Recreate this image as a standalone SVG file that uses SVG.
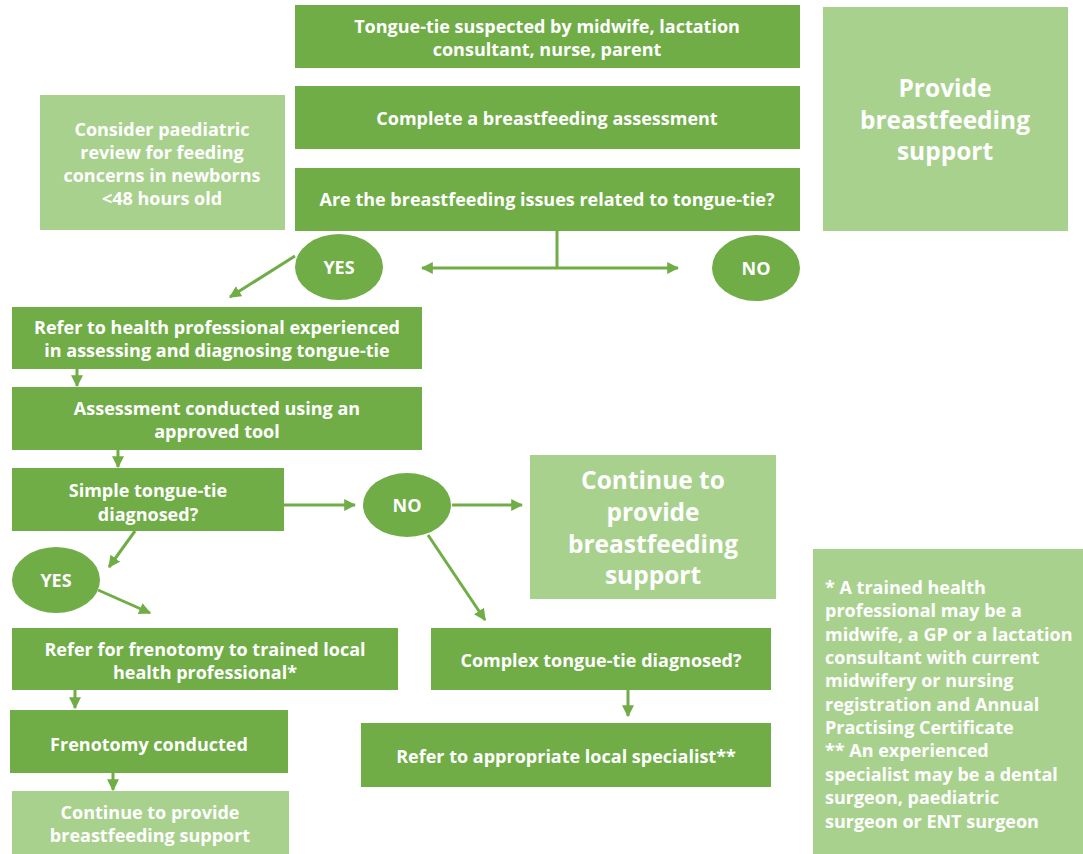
<svg xmlns="http://www.w3.org/2000/svg" width="1083" height="854" viewBox="0 0 1083 854">
<style>
.d{fill:#70AD47}
.l{fill:#A9D18E}
text{font-family:"Open Sans","Noto Sans",sans-serif;font-weight:bold;fill:#fff;text-anchor:middle;font-size:18px}
.big{font-size:24.5px}
.nt{text-anchor:start;font-size:18px}
.c{stroke:#70AD47;stroke-width:3;fill:none}
</style>
<defs>
<marker id="ah" viewBox="0 0 10 10" refX="9" refY="5" markerWidth="4" markerHeight="4" orient="auto-start-reverse" markerUnits="strokeWidth">
<path d="M0,0 L10,5 L0,10 z" fill="#70AD47"/>
</marker>
</defs>
<rect width="1083" height="854" fill="#fff"/>
<g id="connectors">
<path class="c" d="M557,231 V268"/>
<path class="c" d="M422,268 H678" marker-start="url(#ah)" marker-end="url(#ah)"/>
<path class="c" d="M295,256 L230,297" marker-end="url(#ah)"/>
<path class="c" d="M77,369 V386" marker-end="url(#ah)"/>
<path class="c" d="M118,450 V467" marker-end="url(#ah)"/>
<path class="c" d="M284,505 H355" marker-end="url(#ah)"/>
<path class="c" d="M452,505 H522" marker-end="url(#ah)"/>
<path class="c" d="M428,535 L485,620" marker-end="url(#ah)"/>
<path class="c" d="M135,531 L109,567" marker-end="url(#ah)"/>
<path class="c" d="M98,590 L150,613" marker-end="url(#ah)"/>
<path class="c" d="M75,690 V708" marker-end="url(#ah)"/>
<path class="c" d="M113,773 V790" marker-end="url(#ah)"/>
<path class="c" d="M628,690 V716" marker-end="url(#ah)"/>
</g>
<g id="n1"><rect class="d" x="295" y="5" width="505" height="63"/><text x="547" y="33">Tongue-tie suspected by midwife, lactation</text><text x="547" y="56">consultant, nurse, parent</text></g>
<g id="n2"><rect class="d" x="295" y="86" width="505" height="63"/><text x="547" y="125">Complete a breastfeeding assessment</text></g>
<g id="n3"><rect class="d" x="295" y="168" width="505" height="63"/><text x="547" y="206">Are the breastfeeding issues related to tongue-tie?</text></g>
<g id="n4"><rect class="l" x="40" y="95" width="245" height="135"/><text x="162" y="136">Consider paediatric</text><text x="162" y="159">review for feeding</text><text x="162" y="182">concerns in newborns</text><text x="162" y="205">&lt;48 hours old</text></g>
<g id="n5"><rect class="l" x="823" y="7" width="245" height="224"/><text class="big" x="945" y="97">Provide</text><text class="big" x="945" y="129">breastfeeding</text><text class="big" x="945" y="160">support</text></g>
<g id="yes1"><ellipse class="d" cx="339" cy="267" rx="44" ry="33"/><text x="339" y="274">YES</text></g>
<g id="no1"><ellipse class="d" cx="756" cy="268" rx="44" ry="33"/><text x="756" y="275">NO</text></g>
<g id="n6"><rect class="d" x="12" y="307" width="410" height="62"/><text x="217" y="334">Refer to health professional experienced</text><text x="217" y="357">in assessing and diagnosing tongue-tie</text></g>
<g id="n7"><rect class="d" x="12" y="387" width="410" height="63"/><text x="217" y="415">Assessment conducted using an</text><text x="217" y="438">approved tool</text></g>
<g id="n8"><rect class="d" x="12" y="468" width="272" height="63"/><text x="148" y="497">Simple tongue-tie</text><text x="148" y="521">diagnosed?</text></g>
<g id="no2"><ellipse class="d" cx="407" cy="505" rx="44" ry="32"/><text x="407" y="512">NO</text></g>
<g id="n9"><rect class="l" x="530" y="455" width="246" height="144"/><text class="big" x="653" y="489">Continue to</text><text class="big" x="653" y="521">provide</text><text class="big" x="653" y="553">breastfeeding</text><text class="big" x="653" y="584">support</text></g>
<g id="yes2"><ellipse class="d" cx="56" cy="580" rx="44" ry="33"/><text x="56" y="587">YES</text></g>
<g id="n10"><rect class="d" x="12" y="628" width="386" height="62"/><text x="205" y="656">Refer for frenotomy to trained local</text><text x="205" y="679">health professional*</text></g>
<g id="n11"><rect class="d" x="431" y="628" width="340" height="62"/><text x="601" y="667">Complex tongue-tie diagnosed?</text></g>
<g id="n12"><rect class="d" x="10" y="710" width="278" height="63"/><text x="149" y="751">Frenotomy conducted</text></g>
<g id="n13"><rect class="d" x="361" y="723" width="410" height="64"/><text x="566" y="763">Refer to appropriate local specialist**</text></g>
<g id="n14"><rect class="l" x="12" y="791" width="277" height="63"/><text x="150" y="819">Continue to provide</text><text x="150" y="842">breastfeeding support</text></g>
<g id="n15"><rect class="l" x="813" y="549" width="270" height="305"/>
<text class="nt" x="825" y="594">* A trained health</text>
<text class="nt" x="825" y="617">professional may be a</text>
<text class="nt" x="825" y="641">midwife, a GP or a lactation</text>
<text class="nt" x="825" y="664">consultant with current</text>
<text class="nt" x="825" y="687">midwifery or nursing</text>
<text class="nt" x="825" y="711">registration and Annual</text>
<text class="nt" x="825" y="734">Practising Certificate</text>
<text class="nt" x="825" y="757">** An experienced</text>
<text class="nt" x="825" y="781">specialist may be a dental</text>
<text class="nt" x="825" y="804">surgeon, paediatric</text>
<text class="nt" x="825" y="828">surgeon or ENT surgeon</text>
</g>
</svg>
